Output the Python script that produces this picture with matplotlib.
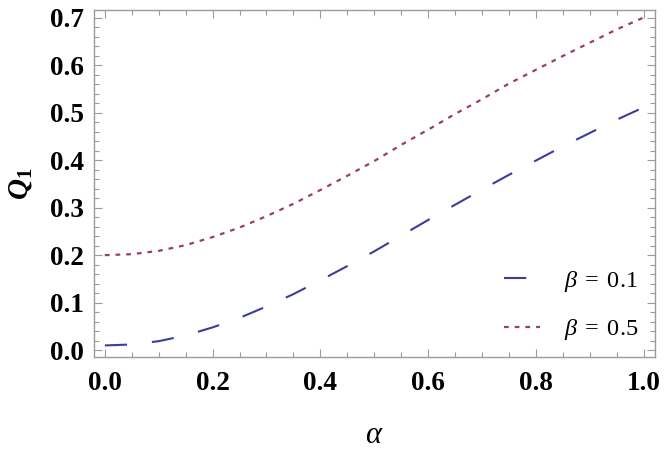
import numpy as np
import matplotlib
matplotlib.use('Agg')
import matplotlib.pyplot as plt
from matplotlib.ticker import MultipleLocator, FormatStrFormatter

# values
alpha = [0.00, 0.05, 0.10, 0.15, 0.20, 0.25, 0.30, 0.35, 0.40, 0.45, 0.50,
         0.55, 0.60, 0.65, 0.70, 0.75, 0.80, 0.85, 0.90, 0.95, 1.00]
q1_beta01 = [0.010, 0.012, 0.019, 0.031, 0.048, 0.068, 0.092, 0.118, 0.147, 0.177, 0.208,
             0.241, 0.274, 0.306, 0.338, 0.369, 0.399, 0.429, 0.457, 0.485, 0.511]
q1_beta05 = [0.200, 0.202, 0.209, 0.221, 0.238, 0.258, 0.282, 0.308, 0.337, 0.367, 0.398,
             0.432, 0.464, 0.497, 0.528, 0.561, 0.590, 0.619, 0.647, 0.675, 0.700]
labels = [r'$\beta \;=\; 0.1$', r'$\beta \;=\; 0.5$']
xticks = [0.0, 0.2, 0.4, 0.6, 0.8, 1.0]
yticks = [0.0, 0.1, 0.2, 0.3, 0.4, 0.5, 0.6, 0.7]

plt.rcParams.update({
    'font.family': 'serif',
    'font.serif': ['Liberation Serif', 'Times New Roman', 'DejaVu Serif'],
    'mathtext.fontset': 'custom',
    'mathtext.rm': 'Liberation Serif',
    'mathtext.it': 'Liberation Serif:italic',
    'mathtext.bf': 'Liberation Serif:bold',
    'mathtext.bfit': 'Liberation Serif:bold:italic',
    'lines.scale_dashes': False,
})

frame = '#9a9a9a'
fig = plt.figure(figsize=(6.67, 4.5), dpi=100)
ax = fig.add_axes([0.141, 0.207, 0.841, 0.771])

ax.plot(alpha, q1_beta01, color=(0.24, 0.24, 0.6), lw=1.5,
        dashes=(16, 18), label=labels[0])
ax.plot(alpha, q1_beta05, color=(0.6, 0.24, 0.4428), lw=1.6,
        dashes=(3.4, 4.3), label=labels[1])

ax.set_xlim(-0.020, 1.021)
ax.set_ylim(-0.014, 0.716)
ax.set_xticks(xticks)
ax.set_yticks(yticks)
ax.xaxis.set_minor_locator(MultipleLocator(0.05))
ax.yaxis.set_minor_locator(MultipleLocator(0.02))
ax.xaxis.set_major_formatter(FormatStrFormatter('%.1f'))
ax.yaxis.set_major_formatter(FormatStrFormatter('%.1f'))

for s in ax.spines.values():
    s.set_color(frame)
    s.set_linewidth(1.0)
ax.tick_params(which='both', direction='in', top=True, right=True, color=frame, width=0.8)
ax.tick_params(which='major', length=6, labelsize=19.5)
ax.tick_params(which='minor', length=3.5)
ax.tick_params(axis='x', which='major', pad=10)
ax.tick_params(axis='y', which='major', pad=7)
ax.set_xticklabels(['%.1f' % v for v in xticks], fontweight='bold')
ax.set_yticklabels(['%.1f' % v for v in yticks], fontweight='bold')

ax.set_xlabel(r'$\alpha$', fontsize=22, labelpad=18)
ax.set_ylabel(r'$\mathbfit{Q}_{\mathbf{1}}$', fontsize=21, labelpad=12)

ax.legend(loc='upper left', bbox_to_anchor=(504 / 667, 1 - 269 / 450),
          bbox_transform=fig.transFigure, frameon=False, fontsize=17.5,
          borderpad=0, borderaxespad=0, handlelength=1.5, handletextpad=0.95,
          labelspacing=0.95)

fig.savefig('out.png', dpi=100)
